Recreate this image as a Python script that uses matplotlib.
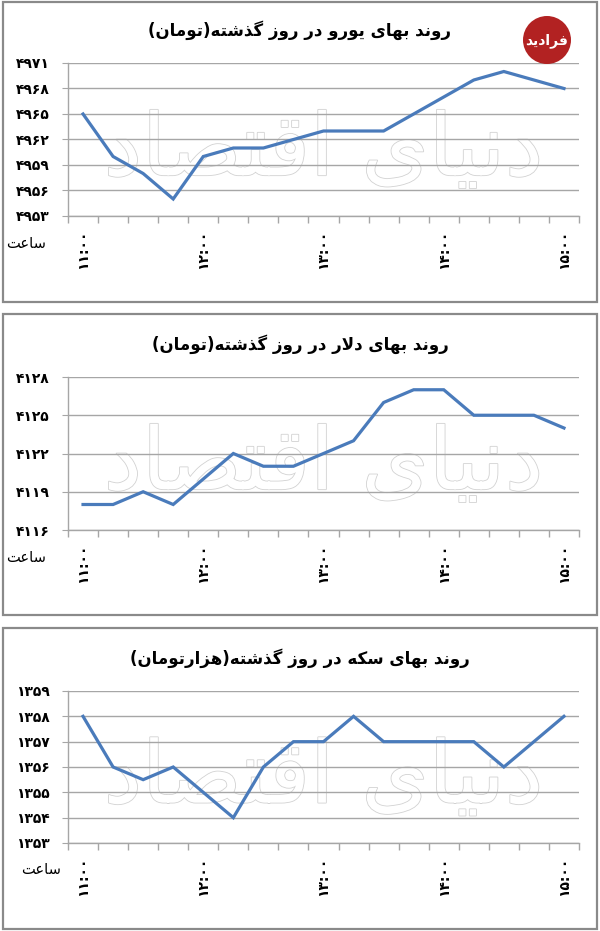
"""
Three stacked line charts: euro, dollar and coin prices during the past day.
Persian text is shaped by a small table-driven reshaper because matplotlib
does not join Arabic letters or reorder right-to-left text by itself.
"""
import matplotlib
matplotlib.use("Agg")
import matplotlib.pyplot as plt
import matplotlib.patheffects as pe
from matplotlib.patches import Rectangle, Ellipse


# ---- data -----------------------------------------------------------------
hour_labels = ['۱۱:۰۰', '۱۲:۰۰', '۱۳:۰۰', '۱۴:۰۰', '۱۵:۰۰']   # every 4th point

euro = [4965, 4960, 4958, 4955, 4960, 4961, 4961, 4962, 4963,
        4963, 4963, 4965, 4967, 4969, 4970, 4969, 4968]
dollar = [4118, 4118, 4119, 4118, 4120, 4122, 4121, 4121, 4122,
          4123, 4126, 4127, 4127, 4125, 4125, 4125, 4124]
coin = [1358, 1356, 1355.5, 1356, 1355, 1354, 1356, 1357, 1357,
        1358, 1357, 1357, 1357, 1357, 1356, 1357, 1358]

titles = ['روند بهای یورو در روز گذشته(تومان)',
          'روند بهای دلار در روز گذشته(تومان)',
          'روند بهای سکه در روز گذشته(هزارتومان)']
y_ranges = [(4953, 4971, 3), (4116, 4128, 3), (1353, 1359, 1)]
hour_word = 'ساعت'
watermark = 'دنیای اقتصاد'
logo_word = 'فرادید'


# ---- minimal Persian shaping ------------------------------------------------
# (isolated, final, initial, medial); right-joining letters have no initial/medial
FORMS = {
    'ا': ('\uFE8D', '\uFE8E', None, None),
    'د': ('\uFEA9', '\uFEAA', None, None),
    'ذ': ('\uFEAB', '\uFEAC', None, None),
    'ر': ('\uFEAD', '\uFEAE', None, None),
    'ز': ('\uFEAF', '\uFEB0', None, None),
    'و': ('\uFEED', '\uFEEE', None, None),
    'ب': ('\uFE8F', '\uFE90', '\uFE91', '\uFE92'),
    'ت': ('\uFE95', '\uFE96', '\uFE97', '\uFE98'),
    'س': ('\uFEB1', '\uFEB2', '\uFEB3', '\uFEB4'),
    'ش': ('\uFEB5', '\uFEB6', '\uFEB7', '\uFEB8'),
    'ص': ('\uFEB9', '\uFEBA', '\uFEBB', '\uFEBC'),
    'ع': ('\uFEC9', '\uFECA', '\uFECB', '\uFECC'),
    'ف': ('\uFED1', '\uFED2', '\uFED3', '\uFED4'),
    'ق': ('\uFED5', '\uFED6', '\uFED7', '\uFED8'),
    'ل': ('\uFEDD', '\uFEDE', '\uFEDF', '\uFEE0'),
    'م': ('\uFEE1', '\uFEE2', '\uFEE3', '\uFEE4'),
    'ن': ('\uFEE5', '\uFEE6', '\uFEE7', '\uFEE8'),
    'ه': ('\uFEE9', '\uFEEA', '\uFEEB', '\uFEEC'),
    'ک': ('\uFB8E', '\uFB8F', '\uFB90', '\uFB91'),
    'گ': ('\uFB92', '\uFB93', '\uFB94', '\uFB95'),
    'ی': ('\uFBFC', '\uFBFD', '\uFBFE', '\uFBFF'),
}
MIRROR = {'(': ')', ')': '('}


def _dual(c):
    return c in FORMS and FORMS[c][2] is not None


def fa(text):
    out = []
    i, n = 0, len(text)
    while i < n:
        c = text[i]
        if c not in FORMS:
            out.append(MIRROR.get(c, c))
            i += 1
            continue
        prev_joins = i > 0 and _dual(text[i - 1])
        nxt = text[i + 1] if i + 1 < n else ''
        if c == 'ل' and nxt == 'ا':
            out.append('\uFEFC' if prev_joins else '\uFEFB')
            i += 2
            continue
        next_joins = _dual(c) and nxt in FORMS
        iso, fin, ini, med = FORMS[c]
        if prev_joins and next_joins:
            out.append(med)
        elif next_joins:
            out.append(ini)
        elif prev_joins:
            out.append(fin)
        else:
            out.append(iso)
        i += 1
    return ''.join(reversed(out))


def fa_digits(v):
    return str(int(v)).translate(str.maketrans('0123456789', '۰۱۲۳۴۵۶۷۸۹'))


# ---- figure -----------------------------------------------------------------
plt.rcParams['font.family'] = ['DejaVu Sans']
W, H = 600, 931
fig = plt.figure(figsize=(W / 100, H / 100), dpi=100)

LINE = '#4a7bbb'
GRID = '#a6a6a6'

# pixel layout of each panel: box top/bottom, title y, axes top/bottom, hour word x
panels = [
    dict(box=(2, 302), title=30, ax=(63, 216), hour_x=26),
    dict(box=(314, 615), title=344, ax=(377, 530), hour_x=26),
    dict(box=(628, 929), title=658, ax=(691, 843), hour_x=41),
]
ax_left, ax_right = 68, 579

for series, title, (lo, hi, step), p in zip([euro, dollar, coin], titles,
                                            y_ranges, panels):
    b0, b1 = p['box']
    fig.add_artist(Rectangle((3 / W, 1 - b1 / H), 594 / W, (b1 - b0) / H,
                             transform=fig.transFigure, fill=False,
                             edgecolor='#8a8a8a', linewidth=1.6))
    fig.text(0.5, 1 - p['title'] / H, fa(title), ha='center', va='center',
             fontsize=12, fontweight='bold', color='black')

    a0, a1 = p['ax']
    ax = fig.add_axes([ax_left / W, 1 - a1 / H,
                       (ax_right - ax_left) / W, (a1 - a0) / H])
    xs = list(range(len(series)))
    ax.plot(xs, series, color=LINE, linewidth=2.3, zorder=3,
            solid_joinstyle='miter')

    ax.set_xlim(-0.5, len(series) - 0.5)
    ax.set_ylim(lo, hi)
    yt = list(range(lo, hi + 1, step))
    ax.set_yticks(yt)
    ax.set_yticklabels([fa_digits(v) for v in yt], fontsize=10,
                       fontweight='bold')
    ax.yaxis.grid(True, color=GRID, linewidth=1.0, zorder=0)
    ax.tick_params(axis='y', length=4, color=GRID, pad=9)

    ax.set_xticks(xs[::4])
    ax.set_xticklabels(hour_labels, rotation=90, fontsize=10,
                       fontweight='bold', va='top', ha='center')
    ax.set_xticks([x - 0.5 for x in range(len(series) + 1)], minor=True)
    ax.tick_params(axis='x', which='major', length=0, pad=10)
    ax.tick_params(axis='x', which='minor', length=5, color=GRID, width=1)

    for side in ('top', 'right'):
        ax.spines[side].set_visible(False)
    for side in ('left', 'bottom'):
        ax.spines[side].set_color(GRID)
        ax.spines[side].set_linewidth(1.0)

    # faint outlined watermark behind the line
    ax.text(0.5, 0.42, fa(watermark), transform=ax.transAxes, ha='center',
            va='center', fontsize=62, color='white', zorder=1.5,
            path_effects=[pe.withStroke(linewidth=1.2, foreground='#d2d2d2')])

    fig.text(p['hour_x'] / W, 1 - (a1 + 27) / H, fa(hour_word),
             ha='center', va='center', fontsize=10.5)

# site logo
fig.add_artist(Ellipse((547 / W, 1 - 40 / H), 48 / W, 48 / H,
                       transform=fig.transFigure, facecolor='#b22222',
                       edgecolor='none'))
fig.text(547 / W, 1 - 41 / H, fa(logo_word), ha='center', va='center',
         fontsize=10, fontweight='bold', color='white')

fig.savefig('out.png', dpi=100)
